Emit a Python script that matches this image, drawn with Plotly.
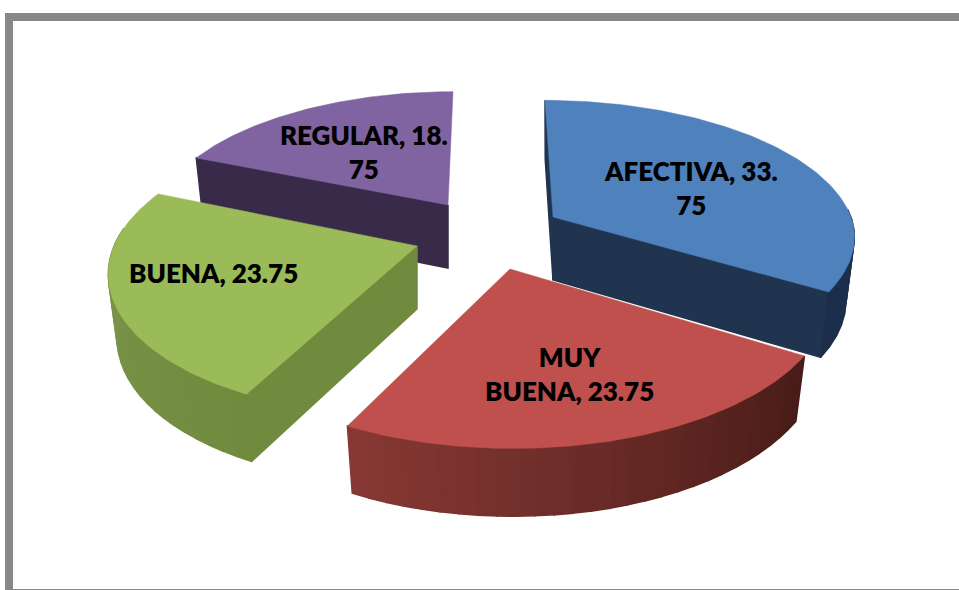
import numpy as np
import plotly.graph_objects as go

# data
categories = ["AFECTIVA", "MUY BUENA", "BUENA", "REGULAR"]
values = [33.75, 23.75, 23.75, 18.75]
label_lines = ["AFECTIVA, 33.<br>75", "MUY<br>BUENA, 23.75", "BUENA, 23.75", "REGULAR, 18.<br>75"]

# drawing style (canvas pixel units)
apex = {"AFECTIVA": (553, 217), "MUY BUENA": (510, 269), "BUENA": (417, 246), "REGULAR": (448, 205)}
label_at = {"AFECTIVA": (691, 188), "MUY BUENA": (569, 374), "BUENA": (213, 273), "REGULAR": (364, 152)}
# per-slice view: x radius, y radius, perspective, skew at back, skew at front
view = {"AFECTIVA": (298, 133, 0.14, -8, 3),
        "MUY BUENA": (318, 154, 0.142, 0, 3),
        "BUENA": (303, 144, 0.151, 15, -13),
        "REGULAR": (290, 130, 0.147, 5, 0)}
top_color = {"AFECTIVA": "#4f81bd", "MUY BUENA": "#c0504d", "BUENA": "#9bbb59", "REGULAR": "#8064a2"}
cut_color = {"AFECTIVA": "#21344f", "MUY BUENA": "#5a2220", "BUENA": "#708a3e", "REGULAR": "#3a2a4a"}
rim_from = {"AFECTIVA": (34, 58, 92), "MUY BUENA": (135, 56, 52), "BUENA": (112, 138, 62), "REGULAR": (58, 42, 74)}
rim_to = {"AFECTIVA": (28, 46, 74), "MUY BUENA": (72, 28, 24), "BUENA": (128, 152, 78), "REGULAR": (58, 42, 74)}
DEPTH, KZ = 63.0, 0.07
draw_order = ["REGULAR", "AFECTIVA", "BUENA", "MUY BUENA"]


def project(cat, theta, r=1.0, z=0.0):
    cx, cy = apex[cat]
    a, b, k, skew_back, skew_front = view[cat]
    X, Y = r * np.sin(theta), r * np.cos(theta)
    s = 1 + k * Y
    px = a * X / s + (skew_back * Y if Y > 0 else skew_front * -Y)
    py = -b * Y / s
    zz = z / (1 + KZ * Y)
    px *= 1 - 0.028 * (zz / DEPTH)
    return cx + px, cy + py + zz


fracs = np.array(values) / sum(values)
ends = np.cumsum(fracs) * 2 * np.pi
starts = ends - fracs * 2 * np.pi
span = {c: (s, e) for c, s, e in zip(categories, starts, ends)}


def poly(xs, ys, color):
    return go.Scatter(x=list(xs), y=list(ys), mode="lines", fill="toself", fillcolor=color,
                      line=dict(color=color, width=1.5), hoverinfo="skip", showlegend=False)


fig = go.Figure()
for cat in draw_order:
    a0, a1 = span[cat]
    faces = []
    if np.sin(a0) < 1e-9:
        faces.append(a0)
    if np.sin(a1) > 1e-9:
        faces.append(a1)
    for th in faces:
        x0, y0 = project(cat, th, 0.0, 0)
        x1, y1 = project(cat, th, 1.0, 0)
        x2, y2 = project(cat, th, 1.0, DEPTH)
        x3, y3 = project(cat, th, 0.0, DEPTH)
        fig.add_trace(poly([x0, x1, x2, x3, x0], [y0, y1, y2, y3, y0], cut_color[cat]))
    edges = np.linspace(a0, a1, 29)
    for i in range(28):
        t = i / 27
        if cat == "MUY BUENA":
            t = 1 - t
        c = [round(p + (q - p) * t) for p, q in zip(rim_from[cat], rim_to[cat])]
        color = f"rgb({c[0]},{c[1]},{c[2]})"
        if np.cos(edges[i]) > 0.1:
            continue
        xa, ya = project(cat, edges[i], 1.0, 0)
        xb, yb = project(cat, edges[i + 1], 1.0, 0)
        xc, yc = project(cat, edges[i + 1], 1.0, DEPTH)
        xd, yd = project(cat, edges[i], 1.0, DEPTH)
        fig.add_trace(poly([xa, xb, xc, xd, xa], [ya, yb, yc, yd, ya], color))
    th = np.linspace(a0, a1, 90)
    pts = [project(cat, t) for t in th]
    ax, ay = project(cat, 0, 0.0)
    xs = [ax] + [p[0] for p in pts] + [ax]
    ys = [ay] + [p[1] for p in pts] + [ay]
    fig.add_trace(go.Scatter(x=xs, y=ys, mode="lines", fill="toself", fillcolor=top_color[cat],
                             line=dict(color=top_color[cat], width=0.5), name=cat,
                             hoverinfo="name", showlegend=False))

for cat, text in zip(categories, label_lines):
    x, y = label_at[cat]
    fig.add_annotation(x=x, y=y, text=text, showarrow=False, align="center",
                       font=dict(family="Lato, Carlito, sans-serif", size=26, color="#000000", weight=800))

fig.add_shape(type="rect", x0=9, y0=17, x1=1000, y1=593, line=dict(color="#888888", width=8),
              fillcolor="rgba(0,0,0,0)", layer="below")

fig.update_layout(width=959, height=590, margin=dict(l=0, r=0, t=0, b=0),
                  paper_bgcolor="white", plot_bgcolor="white", showlegend=False,
                  xaxis=dict(range=[0, 959], visible=False, fixedrange=True),
                  yaxis=dict(range=[590, 0], visible=False, fixedrange=True))
fig.write_html("out.html", config={"displayModeBar": False},
               post_script="document.body.style.margin='0';document.body.style.overflow='hidden';")
